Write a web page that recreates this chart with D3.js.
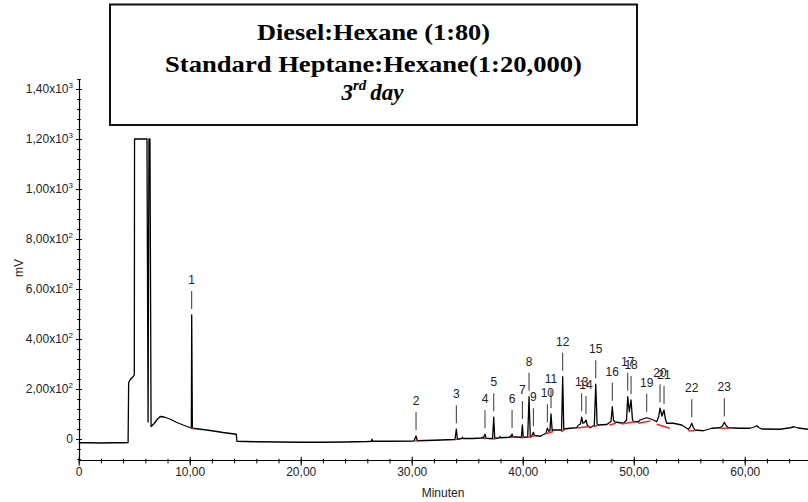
<!DOCTYPE html>
<html>
<head>
<meta charset="utf-8">
<script src="https://cdn.jsdelivr.net/npm/d3@7"></script>
<style>
  html, body { margin: 0; padding: 0; background: #fff; }
  svg { display: block; }
</style>
</head>
<body>
<svg id="chart" width="808" height="502"></svg>
<script>
// ---------------- DATA ----------------
const traceTime = [0,1,2,3,4,4.45,
  4.5,4.62,4.7,4.95,5.01,
  5.03,6.15,6.25,6.33,6.42,6.52,
  6.8,7.1,7.35,7.7,8.2,8.8,9.4,10.0,10.15,10.18,10.24,
  11,12,13,14.2,14.25,15,16,18,20,22,24,26,26.38,26.42,26.48,28,30.2,
  30.39,30.5,32,33.9,34.02,34.12,34.5,34.56,34.62,35.5,36.3,36.35,36.45,36.6,36.7,37.28,37.39,37.48,37.9,37.95,38.0,38.8,38.9,38.95,39.04,39.12,39.5,39.88,39.97,40.05,40.45,40.57,40.68,40.81,40.96,41.05,41.6,42.1,42.22,42.35,42.45,42.55,42.65,42.76,43.34,43.5,43.6,43.7,43.75,44.26,44.86,45.0,45.2,45.31,45.42,45.55,45.7,45.82,46.07,46.45,46.58,46.7,46.81,47.57,47.95,48.07,48.18,48.31,49.06,49.35,49.46,49.6,49.76,49.88,49.97,50.42,50.57,51.03,51.17,51.4,51.77,52.07,52.25,52.37,52.55,52.73,52.85,52.97,53.57,54.32,54.92,55.05,55.23,55.38,55.52,56.27,57.03,57.77,58.0,58.16,58.35,58.52,59.58,60.48,60.85,61.08,61.3,61.53,63.18,64.1,64.44,64.8,65.7];
const traceMv = [-15,-15,-16,-15,-15,-14,
  225,236,240,252,256,
  1200,1200,68,1200,1200,50,
  62,80,90,88,80,67,56,46,44,496,43,
  39,33,26,19,-9,-10,-11,-12,-13,-13,-12,-10,-9,-1,-9,-9,-8,
  12,-7,-5,-2,39,-1,2,7,2,2,4,7,3,19,3,1,87,2,5,10,5,7,12,7,20,8,8,6,56,7,8,169,9,10,27,14,11,24,43,31,33,100,35,36,36,35,249,38,40,43,45,55,60,87,63,65,76,55,45,55,219,60,56,58,70,129,75,68,63,75,169,109,156,80,69,69,76,83,85,82,76,69,90,123,92,116,80,63,63,56,39,45,63,45,36,33,43,45,52,67,52,45,43,43,48,53,45,40,39,45,49,44,39];

const peakNumbers = ["1","2","3","4","5","6","7","8","9","10","11","12","13","14","15","16","17","18","19","20","21","22","23"];
const peakTimes   = [10.18,30.39,34.02,36.6,37.39,39.04,39.97,40.57,40.96,42.22,42.55,43.6,45.31,45.7,46.58,48.07,49.46,49.76,51.17,52.37,52.73,55.23,58.16];
const peakHeights = [496,12,39,19,87,20,56,169,27,43,100,249,87,76,219,129,169,156,85,123,116,63,67];

// integration baselines (red)
const intStartTime = [10.1,30.3,33.9,36.5,37.3,38.9,39.85,40.45,40.85,42.0,43.45,44.9,46.4,47.8,48.9,50.4,52.07,54.9,57.8];
const intStartMv   = [43,-8,-2,2,0,6,5,7,12,20,30,44,50,56,60,63,59,33,43];
const intEndTime   = [10.3,30.5,34.1,36.7,37.5,39.2,40.1,40.75,41.1,42.75,43.75,45.95,46.8,48.4,50.1,51.5,53.25,55.5,58.55];
const intEndMv     = [42,-7,-1,3,1,8,6,8,13,30,36,50,55,63,69,72,43,33,43];

const xTickValues = [0,10,20,30,40,50,60];
const xTickLabels = ["0","10,00","20,00","30,00","40,00","50,00","60,00"];
const yTickValues = [0,200,400,600,800,1000,1200,1400];
const yTickMantissa = ["0","2,00","4,00","6,00","8,00","1,00","1,20","1,40"];
const yTickExponent = ["","2","2","2","2","3","3","3"];
const xLabel = "Minuten";
const yLabel = "mV";
const titleLines = ["Diesel:Hexane (1:80)", "Standard Heptane:Hexane(1:20,000)"];

// ---------------- CHART ----------------
const svg = d3.select("#chart");
const x = d3.scaleLinear().domain([0, 65.7]).range([78.7, 808]);
const y = d3.scaleLinear().domain([-84, 1440]).range([460, 79]);
const sans = "'Liberation Sans', Arial, sans-serif";
const serif = "'Liberation Serif', 'Times New Roman', serif";

// X axis
const xMinor = svg.append("g").attr("transform", "translate(0,460)")
  .call(d3.axisBottom(x).tickValues(d3.range(0, 66, 2)).tickFormat("").tickSize(4).tickSizeOuter(0));
xMinor.select(".domain").attr("stroke", "#000").attr("stroke-width", 1.2);
xMinor.selectAll(".tick line").attr("y1", -1.2).attr("y2", 3.4).attr("stroke", "#000");
const xMajor = svg.append("g").attr("transform", "translate(0,460)")
  .call(d3.axisBottom(x).tickValues(xTickValues).tickFormat((d, i) => xTickLabels[i]).tickSize(6).tickSizeOuter(0));
xMajor.select(".domain").remove();
xMajor.selectAll(".tick line").attr("y1", -3.3).attr("y2", 5.7).attr("stroke", "#000");
xMajor.selectAll(".tick text").attr("y", 7).attr("dy", "0.71em")
  .attr("font-family", sans).attr("font-size", 12).attr("fill", "#222");

svg.append("text").attr("x", 443).attr("y", 496.5).attr("text-anchor", "middle")
  .attr("font-family", sans).attr("font-size", 12).attr("fill", "#222").text(xLabel);

// Y axis
const yMinor = svg.append("g").attr("transform", "translate(79,0)")
  .call(d3.axisLeft(y).tickValues(d3.range(-80, 1441, 40)).tickFormat("").tickSize(2).tickSizeOuter(0));
yMinor.select(".domain").attr("stroke", "#000").attr("stroke-width", 1.2);
yMinor.selectAll(".tick line").attr("x1", -1.8).attr("x2", 1.8).attr("stroke", "#000");
const yMajor = svg.append("g").attr("transform", "translate(79,0)")
  .call(d3.axisLeft(y).tickValues(yTickValues).tickFormat("").tickSize(3).tickSizeOuter(0));
yMajor.select(".domain").remove();
yMajor.selectAll(".tick line").attr("x1", -3).attr("x2", 3).attr("stroke", "#000");

const yLab = svg.append("g");
yTickValues.forEach((v, i) => {
  const t = yLab.append("text")
    .attr("x", 73).attr("y", y(v) + 4.3)
    .attr("text-anchor", "end")
    .attr("font-family", sans).attr("font-size", 12).attr("fill", "#222");
  if (yTickExponent[i]) {
    t.append("tspan").text(yTickMantissa[i] + "x10");
    t.append("tspan").attr("dy", -5).attr("font-size", 8).text(yTickExponent[i]);
  } else {
    t.text(yTickMantissa[i]);
  }
});
svg.append("text").attr("transform", "translate(22.5,268) rotate(-90)")
  .attr("text-anchor", "middle").attr("font-family", sans).attr("font-size", 12)
  .attr("fill", "#222").text(yLabel);

// Trace
const pts = traceTime.map((t, i) => [t, traceMv[i]]);
svg.append("path").datum(pts)
  .attr("fill", "none").attr("stroke", "#000").attr("stroke-width", 1.3)
  .attr("stroke-linejoin", "round")
  .attr("d", d3.line().x(d => x(d[0])).y(d => y(d[1])));

// Integration baselines
svg.append("g").selectAll("line").data(intStartTime).join("line")
  .attr("x1", (d, i) => x(d)).attr("y1", (d, i) => y(intStartMv[i]))
  .attr("x2", (d, i) => x(intEndTime[i])).attr("y2", (d, i) => y(intEndMv[i]))
  .attr("stroke", "#ff2020").attr("stroke-width", 1.4);

// Peak labels
const pl = svg.append("g");
peakTimes.forEach((t, i) => {
  const px = x(t), py = y(peakHeights[i]);
  pl.append("line").attr("x1", px).attr("x2", px)
    .attr("y1", py - 6).attr("y2", py - 24)
    .attr("stroke", "#333").attr("stroke-width", 1);
  pl.append("text").attr("x", px).attr("y", py - 31)
    .attr("text-anchor", "middle").attr("font-family", sans).attr("font-size", 12)
    .attr("fill", "#222").text(peakNumbers[i]);
});

// Title box
svg.append("rect").attr("x", 110).attr("y", 4.5).attr("width", 527).attr("height", 120.5)
  .attr("fill", "#fff").attr("stroke", "#111").attr("stroke-width", 2);
const tWidths = [233, 417];
const tBase = [40, 71.7];
titleLines.forEach((s, i) => {
  svg.append("text").attr("x", 373.5).attr("y", tBase[i]).attr("text-anchor", "middle")
    .attr("font-family", serif).attr("font-weight", "bold").attr("font-size", 23)
    .attr("textLength", tWidths[i]).attr("lengthAdjust", "spacingAndGlyphs")
    .attr("fill", "#000").text(s);
});
const t3 = svg.append("text").attr("x", 372.5).attr("y", 100).attr("text-anchor", "middle")
  .attr("font-family", serif).attr("font-weight", "bold").attr("font-style", "italic")
  .attr("font-size", 23).attr("fill", "#000");
t3.append("tspan").text("3");
t3.append("tspan").attr("dy", -10).attr("font-size", 15).text("rd");
t3.append("tspan").attr("dy", 10).attr("dx", 4).text("day");
</script>
</body>
</html>
